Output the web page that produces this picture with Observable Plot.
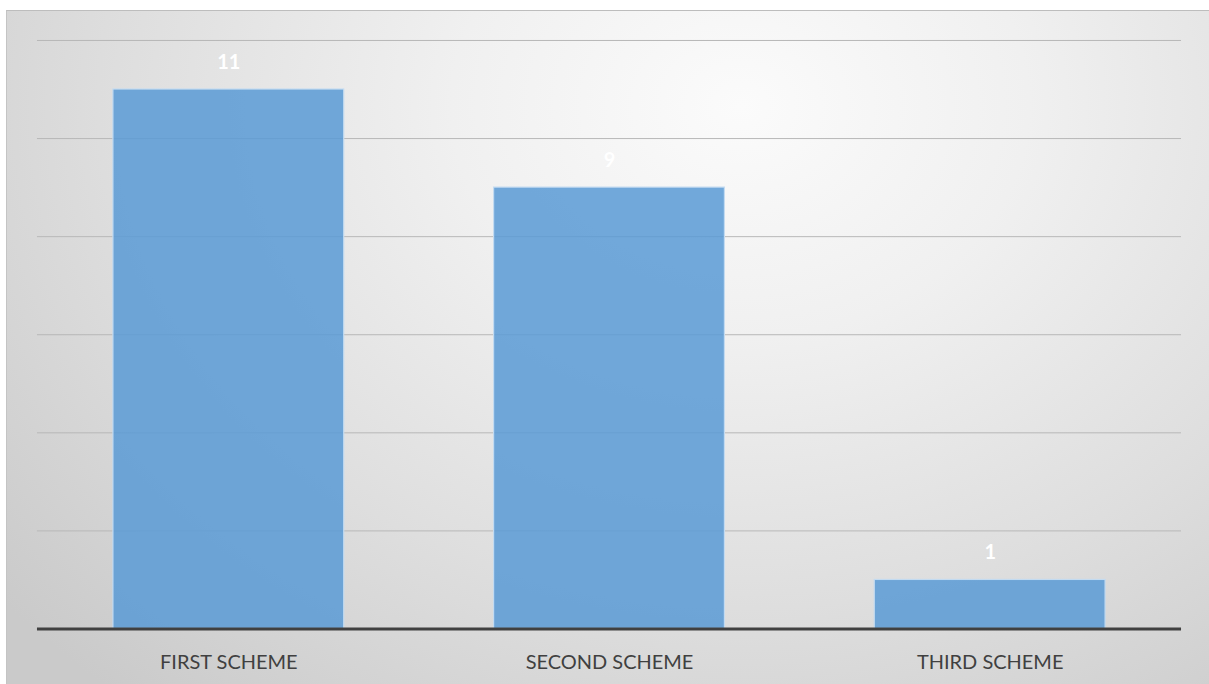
<!DOCTYPE html>
<html>
<head>
<meta charset="utf-8">
<script src="https://cdn.jsdelivr.net/npm/d3@7"></script>
<script src="https://cdn.jsdelivr.net/npm/@observablehq/plot@0.6"></script>
<style>
  html, body { margin: 0; padding: 0; background: #ffffff; }
  #frame {
    position: absolute;
    left: 6px; top: 10px;
    width: 1203px; height: 674px;
    border-top: 1px solid #bdbdbd;
    border-left: 1px solid #c4c4c4;
    box-sizing: border-box;
    background: radial-gradient(ellipse 80% 115% at 61% 14%, #fbfbfb 0%, #f0f0f0 30%, #dedede 65%, #cacaca 100%);
  }
  #frame svg { position: absolute; left: -1px; top: -1px; background: transparent; }
</style>
</head>
<body>
<div id="frame"></div>
<script>
const categories = ["FIRST SCHEME", "SECOND SCHEME", "THIRD SCHEME"];
const values = [11, 9, 1];
const gridTicks = [2, 4, 6, 8, 10, 12];

const data = categories.map((c, i) => ({category: c, value: values[i]}));

const chart = Plot.plot({
  width: 1203,
  height: 674,
  marginTop: 30,
  marginLeft: 31,
  marginRight: 27,
  marginBottom: 55,
  style: {background: "transparent", fontFamily: "Lato, 'Open Sans', sans-serif"},
  x: {domain: categories, paddingInner: 0.395, paddingOuter: 0.2, label: null},
  y: {domain: [0, 12], label: null},
  marks: [
    Plot.ruleY(gridTicks, {stroke: "#b8b8b8", strokeWidth: 1}),
    Plot.barY(data, {
      x: "category", y: "value",
      fill: "#5b9bd5", fillOpacity: 0.86,
      stroke: "#c3dbf1", strokeWidth: 1.2
    }),
    Plot.text(data, {
      x: "category", y: "value", text: d => String(d.value),
      dy: -27, fill: "#ffffff", fontSize: 20, fontWeight: "bold"
    }),
    Plot.ruleY([0], {stroke: "#404040", strokeWidth: 3}),
    Plot.axisX({tickSize: 0, tickPadding: 26, fontSize: 20, fill: "#404040", label: null}),
    Plot.axisY({ticks: [], label: null})
  ]
});

document.getElementById("frame").appendChild(chart);
</script>
</body>
</html>
